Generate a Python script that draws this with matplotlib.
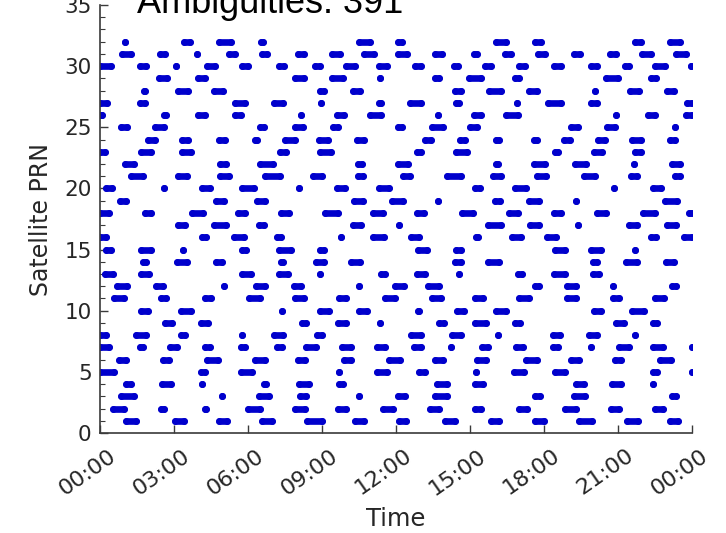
import matplotlib
matplotlib.use("Agg")
import matplotlib.pyplot as plt
import matplotlib.transforms as mtrans
from matplotlib.ticker import MultipleLocator

# ambiguity arcs per satellite, (start, end) in hours of the day
prn01 = [(1.05, 1.47), (3.05, 3.41), (4.81, 5.16), (6.57, 6.97), (8.4, 9.0), (10.35, 10.7), (12.11, 12.42),
         (14.0, 14.41), (15.86, 16.16), (17.65, 18.0), (19.4, 19.96), (21.35, 21.81), (23.12, 23.45)]
prn02 = [(0.51, 0.97), (2.49, 2.59), (4.24, 4.31), (6.0, 6.47), (7.89, 8.3), (9.65, 9.99), (11.46, 11.88),
         (13.39, 13.73), (15.22, 15.46), (16.97, 17.3), (18.84, 19.31), (20.72, 21.03), (22.49, 22.82)]
prn03 = [(0.86, 1.38), (4.96, 4.96), (6.46, 6.84), (8.12, 8.36), (10.5, 10.5), (12.08, 12.35), (13.59, 14.08),
         (17.65, 17.84), (19.2, 19.65), (23.19, 23.36)]
prn04 = [(1.05, 1.24), (2.51, 2.89), (4.15, 4.15), (6.64, 6.74), (8.05, 8.46), (9.68, 9.85), (13.65, 14.08),
         (15.22, 15.53), (19.3, 19.62), (20.76, 21.11), (22.43, 22.43)]
prn05 = [(0.0, 0.57), (4.11, 4.27), (5.73, 6.16), (9.7, 9.7), (11.23, 11.65), (12.95, 13.19), (15.26, 15.26),
         (16.78, 17.19), (18.43, 18.84), (22.4, 22.59), (24.0, 24.0)]
prn06 = [(0.78, 1.07), (2.54, 2.78), (4.34, 4.78), (6.27, 6.68), (8.03, 8.3), (9.88, 10.19), (11.73, 12.15),
         (13.59, 13.91), (15.3, 15.66), (17.27, 17.73), (19.1, 19.4), (20.86, 21.14), (22.69, 23.16)]
prn07 = [(0.0, 0.35), (1.64, 1.74), (2.85, 3.14), (4.27, 4.45), (5.73, 5.89), (7.18, 7.38), (8.35, 8.77),
         (9.81, 10.19), (11.23, 11.54), (12.72, 13.03), (14.24, 14.24), (15.49, 15.73), (16.86, 17.15),
         (18.35, 18.57), (19.9, 19.9), (21.05, 21.43), (22.4, 22.82), (24.0, 24.0)]
prn08 = [(0.0, 0.26), (1.46, 1.88), (3.3, 3.46), (5.76, 5.76), (7.04, 7.42), (8.8, 9.0), (12.62, 13.03),
         (14.27, 14.62), (16.15, 16.15), (18.35, 18.64), (19.84, 20.16), (21.68, 21.68)]
prn09 = [(2.62, 2.92), (4.11, 4.38), (8.19, 8.36), (9.65, 9.99), (11.36, 11.36), (13.73, 13.95), (15.22, 15.66),
         (16.84, 17.01), (20.9, 21.24), (22.43, 22.59)]
prn10 = [(1.68, 1.95), (3.3, 3.7), (7.38, 7.38), (8.93, 9.27), (10.5, 10.84), (12.9, 12.95), (14.46, 14.77),
         (16.05, 16.47), (20.02, 20.3), (21.57, 22.05)]
prn11 = [(0.55, 0.99), (2.49, 2.69), (4.24, 4.49), (6.05, 6.47), (7.92, 8.27), (9.7, 9.99), (11.54, 11.97),
         (13.46, 13.81), (15.22, 15.53), (17.0, 17.38), (18.93, 19.31), (20.78, 21.03), (22.49, 22.86)]
prn12 = [(0.69, 1.11), (2.27, 2.55), (5.01, 5.01), (6.32, 6.7), (7.85, 8.16), (10.51, 10.51), (11.97, 12.32),
         (13.3, 13.73), (17.65, 17.78), (18.93, 19.31), (20.78, 20.78), (23.19, 23.36)]
prn13 = [(0.22, 0.53), (1.68, 1.97), (5.76, 6.14), (7.24, 7.62), (8.92, 8.92), (11.41, 11.54), (12.86, 13.19),
         (14.54, 14.54), (16.95, 17.11), (18.39, 18.84), (19.97, 20.22)]
prn14 = [(1.73, 1.88), (3.12, 3.54), (4.7, 4.95), (7.35, 7.42), (8.76, 9.08), (10.19, 10.53), (14.41, 14.65),
         (15.73, 16.16), (19.97, 20.16), (21.31, 21.78), (22.93, 23.27)]
prn15 = [(0.24, 0.43), (1.68, 2.08), (3.38, 3.38), (5.76, 5.93), (7.24, 7.76), (8.9, 9.08), (12.89, 13.27),
         (14.43, 14.65), (18.43, 18.84), (19.92, 20.32), (21.68, 21.68)]
prn16 = [(0.0, 0.26), (4.12, 4.31), (5.42, 5.84), (7.18, 7.32), (9.76, 9.76), (11.05, 11.51), (12.62, 12.92),
         (15.24, 15.32), (16.7, 17.08), (18.12, 18.5), (22.35, 22.55), (23.66, 24.0)]
prn17 = [(3.16, 3.46), (4.61, 5.12), (6.43, 6.65), (10.24, 10.59), (12.11, 12.11), (15.73, 16.27),
         (17.45, 17.78), (19.36, 19.36), (21.46, 21.78), (22.97, 23.36)]
prn18 = [(0.0, 0.35), (1.84, 2.08), (3.73, 4.18), (5.59, 5.89), (7.35, 7.65), (9.14, 9.65), (11.05, 11.47),
         (12.86, 13.14), (14.68, 15.12), (16.6, 16.95), (18.39, 18.7), (20.15, 20.53), (22.0, 22.49), (23.89, 24.0)]
prn19 = [(0.82, 1.07), (4.7, 5.03), (6.36, 6.68), (10.28, 10.66), (11.84, 12.28), (13.69, 13.69), (16.0, 16.2),
         (17.38, 17.8), (19.28, 19.28), (22.92, 23.4)]
prn20 = [(0.24, 0.49), (2.6, 2.6), (4.12, 4.45), (5.76, 6.24), (8.07, 8.07), (9.6, 9.92), (11.3, 11.73),
         (15.19, 15.4), (16.84, 17.28), (20.85, 20.85), (22.4, 22.76)]
prn21 = [(1.27, 1.74), (3.16, 3.54), (4.88, 5.22), (6.7, 7.28), (8.62, 9.0), (10.46, 10.66), (12.27, 12.55),
         (14.08, 14.62), (15.93, 16.27), (17.72, 18.09), (19.62, 20.05), (21.54, 21.76), (23.3, 23.5)]
prn22 = [(1.0, 1.38), (4.88, 5.12), (6.47, 7.01), (10.46, 10.62), (12.08, 12.49), (16.05, 16.14),
         (17.58, 18.03), (19.24, 19.72), (21.65, 21.65), (23.19, 23.5)]
prn23 = [(0.0, 0.19), (1.68, 2.08), (3.32, 3.68), (7.31, 7.55), (8.93, 9.38), (12.84, 13.03), (14.43, 14.89),
         (18.43, 18.57), (20.02, 20.35), (21.7, 21.92)]
prn24 = [(1.95, 2.24), (3.32, 3.57), (4.84, 5.08), (6.3, 6.38), (7.49, 7.89), (8.86, 9.24), (10.42, 10.7),
         (13.19, 13.4), (14.6, 14.81), (16.05, 16.16), (17.58, 17.73), (18.8, 19.04), (20.19, 20.49),
         (21.57, 21.95), (23.12, 23.3)]
prn25 = [(0.86, 1.11), (2.22, 2.59), (6.5, 6.65), (7.89, 8.23), (9.46, 9.65), (12.08, 12.24), (13.46, 13.9),
         (15.01, 15.3), (19.1, 19.38), (20.55, 20.86), (23.3, 23.3)]
prn26 = [(0.05, 0.1), (2.58, 2.69), (3.96, 4.27), (5.46, 5.73), (8.16, 8.16), (9.6, 9.89), (10.96, 11.38),
         (13.72, 13.72), (15.15, 15.46), (16.45, 16.95), (20.9, 20.9), (22.22, 22.51), (23.76, 24.0)]
prn27 = [(0.0, 0.3), (1.64, 1.84), (5.49, 5.89), (7.04, 7.42), (8.96, 8.96), (11.3, 11.38), (12.58, 13.03),
         (14.43, 14.54), (16.89, 16.89), (18.16, 18.68), (19.92, 20.16), (23.8, 24.0)]
prn28 = [(1.77, 1.84), (3.16, 3.57), (4.61, 4.99), (8.9, 9.08), (10.24, 10.53), (14.41, 14.65), (15.76, 16.24),
         (17.38, 17.73), (20.08, 20.08), (21.47, 21.84), (22.97, 23.27)]
prn29 = [(2.38, 2.73), (3.96, 4.24), (7.92, 8.27), (9.4, 9.85), (11.36, 11.36), (13.59, 13.73), (14.95, 15.43),
         (16.84, 17.0), (20.51, 21.0), (22.35, 22.55)]
prn30 = [(0.0, 0.43), (1.64, 1.88), (3.09, 3.09), (4.34, 4.68), (5.76, 6.0), (7.24, 7.46), (8.7, 8.9),
         (9.97, 10.32), (11.3, 11.65), (12.78, 13.03), (14.34, 14.51), (15.6, 15.84), (16.97, 17.24),
         (18.39, 18.68), (19.92, 20.16), (21.27, 21.44), (22.51, 22.91), (23.95, 23.95)]
prn31 = [(0.89, 1.24), (2.45, 2.62), (3.93, 3.93), (5.22, 5.46), (6.57, 6.78), (8.03, 8.27), (9.4, 9.72),
         (10.69, 11.09), (12.08, 12.46), (13.59, 13.86), (15.18, 15.3), (16.43, 16.65), (17.76, 18.03),
         (19.2, 19.45), (20.69, 20.93), (21.97, 22.32), (23.35, 23.77)]
prn32 = [(1.03, 1.03), (3.39, 3.64), (4.81, 5.3), (6.54, 6.6), (10.49, 10.93), (12.08, 12.26), (16.05, 16.47),
         (17.62, 17.89), (21.7, 21.95), (23.1, 23.5)]

arcs = [prn01, prn02, prn03, prn04, prn05, prn06, prn07, prn08, prn09, prn10, prn11, prn12, prn13, prn14,
        prn15, prn16, prn17, prn18, prn19, prn20, prn21, prn22, prn23, prn24, prn25, prn26, prn27, prn28,
        prn29, prn30, prn31, prn32]

hour_ticks = [0, 3, 6, 9, 12, 15, 18, 21, 24]
hour_labels = ['00:00', '03:00', '06:00', '09:00', '12:00', '15:00', '18:00', '21:00', '00:00']
title = 'Ambiguities: 391'

blue = '#0000cc'
grey = '#262626'

fig = plt.figure(figsize=(7.26, 5.33), dpi=100)
ax = fig.add_axes([100 / 726, 100 / 533, 592 / 726, 428 / 533])

for prn, segs in enumerate(arcs, start=1):
    for s, e in segs:
        ax.plot([s, e], [prn, prn], color=blue, lw=4.8, solid_capstyle='round',
                marker='o', ms=5.0, mew=0, mfc=blue)

ax.set_xlim(0, 24)
ax.set_ylim(0, 35)
ax.set_xticks(hour_ticks)
ax.set_xticklabels(hour_labels)
ax.yaxis.set_major_locator(MultipleLocator(5))
ax.yaxis.set_minor_locator(MultipleLocator(1))

for side in ['top', 'right']:
    ax.spines[side].set_visible(False)
for side in ['left', 'bottom']:
    ax.spines[side].set_color('#3a3a3a')
    ax.spines[side].set_linewidth(1.2)

ax.tick_params(axis='both', which='major', direction='in', length=6, width=1.0, color='#3a3a3a',
               labelsize=15.5, labelcolor=grey)
ax.tick_params(axis='y', which='minor', direction='in', length=3.5, width=0.8, color='#3a3a3a')
ax.tick_params(axis='y', which='major', pad=6)
ax.tick_params(axis='x', which='major', pad=9, labelsize=16)

shift = mtrans.ScaledTranslation(0.08, 0, fig.dpi_scale_trans)
for lab in ax.get_xticklabels():
    lab.set_rotation(35)
    lab.set_ha('right')
    lab.set_va('top')
    lab.set_rotation_mode('anchor')
    lab.set_transform(lab.get_transform() + shift)

ax.set_xlabel('Time', fontsize=17.5, color=grey)
ax.set_ylabel('Satellite PRN', fontsize=17, color=grey)
ax.xaxis.set_label_coords(0.5, -0.172)
ax.yaxis.set_label_coords(-0.08, 0.5)

fig.text(137 / 726, 1 - 13 / 533, title, family='Liberation Sans', fontsize=26,
         color='black', ha='left', va='baseline')

fig.savefig('out.png', dpi=100)
